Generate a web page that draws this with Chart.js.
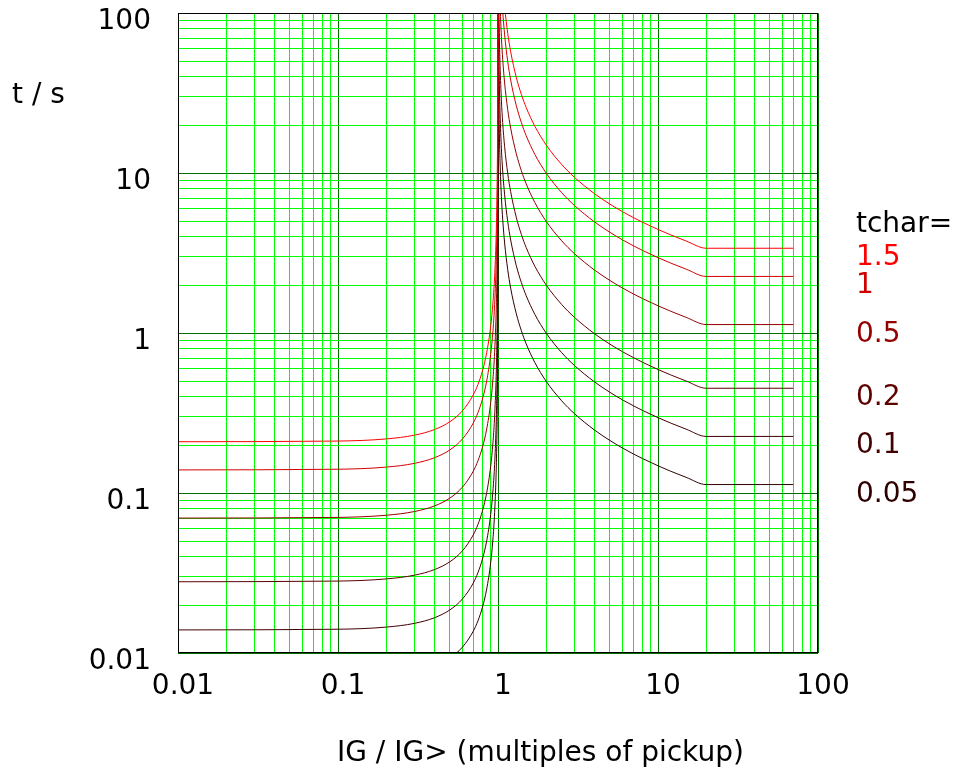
<!DOCTYPE html>
<html>
<head>
<meta charset="utf-8">
<script src="https://cdn.jsdelivr.net/npm/chart.js@4.4.1/dist/chart.umd.min.js"></script>
<style>
  body { margin: 0; background: #fff; }
  canvas { display: block; }
</style>
</head>
<body>
<canvas id="tripChart" width="958" height="774"></canvas>
<script>
// IG / IG> (multiples of pickup)
const current = [
  0.01, 0.1, 0.2, 0.3, 0.4, 0.5, 0.6, 0.7, 0.75, 0.8, 0.85, 0.9, 0.93, 0.95, 0.97, 0.98, 0.99, 0.995, 0.998, 0.999, 0.9998,
  1.0002, 1.001, 1.002, 1.005, 1.01, 1.02, 1.03, 1.05, 1.07, 1.1, 1.15, 1.2, 1.3, 1.4, 1.5, 1.7, 2, 2.5, 3, 4, 5, 6, 7, 8, 10, 12, 15, 20, 70
];

// trip time t / s for each tchar setting
const time150 = [
  0.21, 0.2121, 0.2187, 0.2308, 0.25, 0.28, 0.3281, 0.4118, 0.48, 0.5833, 0.7568, 1.105, 1.554, 2.154, 3.553, 5.303, 10.55, 21.05, 52.55, 105.1, 525,
  52506, 10505, 5255, 2105, 1055, 530.1, 355.1, 215.1, 155.1, 110.1, 75.02, 57.48, 39.92, 31.10, 25.79, 19.68, 15.04, 11.36, 9.453, 7.47, 6.42, 5.756, 5.292, 4.946, 4.457, 4.122, 3.773, 3.401, 3.401
];
const time100 = [
  0.14, 0.1414, 0.1458, 0.1538, 0.1667, 0.1867, 0.2188, 0.2745, 0.32, 0.3889, 0.5045, 0.7368, 1.036, 1.436, 2.369, 3.535, 7.035, 14.04, 35.04, 70.04, 350,
  35004, 7004, 3504, 1403, 703.4, 353.4, 236.7, 143.4, 103.4, 73.37, 50.02, 38.32, 26.61, 20.73, 17.19, 13.12, 10.03, 7.57, 6.302, 4.98, 4.28, 3.837, 3.528, 3.297, 2.971, 2.748, 2.516, 2.267, 2.267
];
const time050 = [
  0.07, 0.0707, 0.0729, 0.0769, 0.0833, 0.0933, 0.1094, 0.1373, 0.16, 0.1944, 0.2523, 0.3684, 0.5181, 0.718, 1.184, 1.768, 3.518, 7.018, 17.52, 35.02, 175,
  17502, 3502, 1752, 701.7, 351.7, 176.7, 118.4, 71.7, 51.7, 36.69, 25.01, 19.16, 13.31, 10.37, 8.595, 6.56, 5.015, 3.785, 3.151, 2.49, 2.14, 1.919, 1.764, 1.649, 1.486, 1.374, 1.258, 1.134, 1.134
];
const time020 = [
  0.028, 0.02828, 0.02917, 0.03077, 0.03333, 0.03733, 0.04375, 0.0549, 0.064, 0.07778, 0.1009, 0.1474, 0.2073, 0.2872, 0.4738, 0.7071, 1.407, 2.807, 7.007, 14.01, 70.01,
  7001, 1401, 700.7, 280.7, 140.7, 70.68, 47.34, 28.68, 20.68, 14.67, 10.0, 7.664, 5.322, 4.146, 3.438, 2.624, 2.006, 1.514, 1.26, 0.996, 0.856, 0.7674, 0.7056, 0.6594, 0.5942, 0.5496, 0.5031, 0.4535, 0.4535
];
const time010 = [
  0.014, 0.01414, 0.01458, 0.01538, 0.01667, 0.01867, 0.02188, 0.02745, 0.032, 0.03889, 0.05045, 0.07368, 0.1036, 0.1436, 0.2369, 0.3535, 0.7035, 1.404, 3.504, 7.004, 35.0,
  3500, 700.4, 350.4, 140.3, 70.34, 35.34, 23.67, 14.34, 10.34, 7.337, 5.002, 3.832, 2.661, 2.073, 1.719, 1.312, 1.003, 0.757, 0.6302, 0.498, 0.428, 0.3837, 0.3528, 0.3297, 0.2971, 0.2748, 0.2516, 0.2267, 0.2267
];
const time005 = [
  0.007, 0.00707, 0.00729, 0.00769, 0.00833, 0.00933, 0.01094, 0.01373, 0.016, 0.01944, 0.02523, 0.03684, 0.05181, 0.0718, 0.1184, 0.1768, 0.3518, 0.7018, 1.752, 3.502, 17.5,
  1750, 350.2, 175.2, 70.17, 35.17, 17.67, 11.84, 7.17, 5.17, 3.669, 2.501, 1.916, 1.331, 1.037, 0.8595, 0.656, 0.5015, 0.3785, 0.3151, 0.249, 0.214, 0.1919, 0.1764, 0.1649, 0.1486, 0.1374, 0.1258, 0.1134, 0.1134
];

const tcharLabels = ['1.5', '1', '0.5', '0.2', '0.1', '0.05'];
const curveColors = ['#ff0000', '#d00000', '#930000', '#5d0000', '#420000', '#2f0000'];

// log grid: decades plus 2..9 in between
const decadeTicks = [0.01, 0.1, 1, 10, 100];
const decadeLabels = ['0.01', '0.1', '1', '10', '100'];
const minorSteps = [2, 3, 4, 5, 6, 7, 8, 9];

function buildLogTicks(scale) {
  const ticks = [];
  decadeTicks.forEach((d, i) => {
    ticks.push({ value: d, major: true, text: decadeLabels[i] });
    if (i < decadeTicks.length - 1) {
      minorSteps.forEach(m => ticks.push({ value: d * m, major: false, text: '' }));
    }
  });
  scale.ticks = ticks;
}

const gridColor = ctx => (ctx.tick && ctx.tick.major) ? '#006e00' : '#00ff00';

const textPlugin = {
  id: 'curveText',
  afterDraw(chart) {
    const { ctx, chartArea, scales } = chart;
    ctx.save();
    ctx.strokeStyle = '#000';
    ctx.lineWidth = 1;
    const l = Math.round(chartArea.left) + 0.5, t = Math.round(chartArea.top) + 0.5;
    const r = Math.round(chartArea.right) - 0.5, b = Math.round(chartArea.bottom) - 0.5;
    ctx.strokeRect(l, t, r - l, b - t);

    ctx.font = "28px 'DejaVu Sans'";
    ctx.textAlign = 'left';
    ctx.textBaseline = 'alphabetic';
    ctx.fillStyle = '#000';
    ctx.fillText('t / s', 12, 103);
    ctx.fillText('IG / IG> (multiples of pickup)', 337, 761);
    ctx.fillText('tchar=', 856, 232);
    chart.data.datasets.forEach((ds, i) => {
      const last = ds.data[ds.data.length - 1].y;
      ctx.fillStyle = curveColors[i];
      ctx.fillText(tcharLabels[i], 856, scales.y.getPixelForValue(last) + 17);
    });
    ctx.restore();
  }
};

Chart.defaults.font.family = "'DejaVu Sans', sans-serif";
Chart.defaults.font.size = 28;
Chart.defaults.color = '#000';

const series = [time150, time100, time050, time020, time010, time005];

new Chart(document.getElementById('tripChart'), {
  type: 'line',
  data: {
    datasets: series.map((times, i) => ({
      label: 'tchar=' + tcharLabels[i],
      data: current.map((x, j) => ({ x: x, y: times[j] })),
      borderColor: curveColors[i],
      borderWidth: 1,
      pointRadius: 0,
      fill: false,
      cubicInterpolationMode: 'monotone'
    }))
  },
  options: {
    responsive: false,
    animation: false,
    layout: { padding: { top: 13.3, right: 140, left: 0, bottom: 0 } },
    plugins: {
      legend: { display: false },
      title: { display: false },
      tooltip: { enabled: false }
    },
    scales: {
      x: {
        type: 'logarithmic',
        min: 0.01,
        max: 100,
        afterBuildTicks: buildLogTicks,
        afterFit: s => { s.height = 120.7; s.paddingLeft = 0; s.paddingRight = 0; },
        border: { display: false },
        grid: { color: gridColor, lineWidth: 1, drawTicks: false },
        ticks: {
          autoSkip: false, maxRotation: 0, minRotation: 0,
          padding: 17, labelOffset: 5, color: '#000',
          callback: (v, i, t) => t[i].text
        }
      },
      y: {
        type: 'logarithmic',
        min: 0.01,
        max: 100,
        afterBuildTicks: buildLogTicks,
        afterFit: s => { s.width = 178; s.paddingTop = 0; s.paddingBottom = 0; },
        border: { display: false },
        grid: { color: gridColor, lineWidth: 1, drawTicks: false },
        ticks: {
          autoSkip: false, padding: 27, labelOffset: 8, color: '#000',
          callback: (v, i, t) => t[i].text
        }
      }
    }
  },
  plugins: [textPlugin]
});
</script>
</body>
</html>
